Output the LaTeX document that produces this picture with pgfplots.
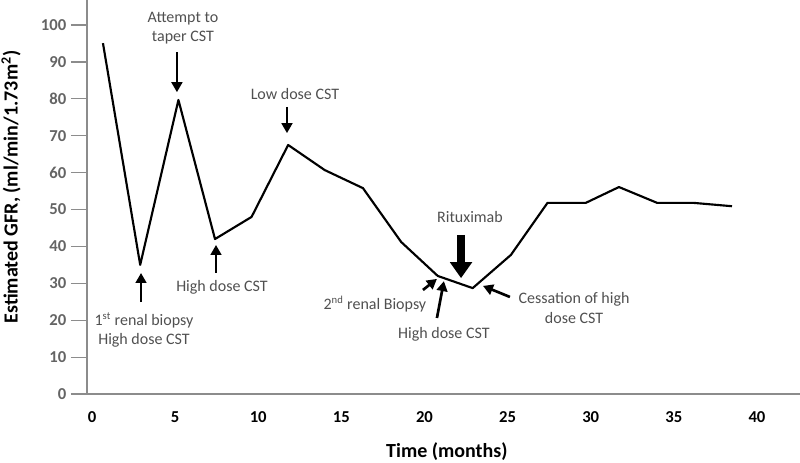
\documentclass[border=0pt]{standalone}
\usepackage{pgfplots}
\pgfplotsset{compat=1.18}
\usepackage{fontspec}
\setmainfont{Carlito}
\usetikzlibrary{arrows.meta}
\definecolor{axgray}{RGB}{140,140,140}
\definecolor{lblgray}{RGB}{100,100,100}
\definecolor{txtgray}{RGB}{80,80,80}
\begin{document}
\begin{tikzpicture}
\begin{axis}[
  scale only axis,
  width=534.75pt, height=295.5pt,
  xmin=-0.3, xmax=42.59, ymin=0, ymax=106.8,
  axis x line*=bottom, axis y line*=left,
  axis line style={draw=axgray, line width=0.9pt, -},
  xtick={0,5,...,40}, ytick={0,10,...,100},
  x tick style={draw=none},
  y tick style={draw=axgray, line width=0.9pt},
  tick align=outside,
  major tick length=12pt,
  /pgf/number format/assume math mode=true,
  xticklabel style={font=\fontsize{12.5}{14}\selectfont\bfseries, text=black, yshift=2.5pt},
  yticklabel style={font=\fontsize{12.5}{14}\selectfont\bfseries, text=lblgray},
  clip=false,
]
\addplot[black, line width=1.6pt, line join=round] coordinates {
 (0.66,95.1) (2.9,35.0) (5.2,79.7) (7.4,42.0) (9.6,48.0) (11.8,67.5)
 (14.0,60.7) (16.3,55.8) (18.6,41.2) (20.8,32.0) (22.9,28.7) (25.2,37.7)
 (27.4,51.8) (29.7,51.8) (31.7,56.1) (34.0,51.8) (36.2,51.8) (38.5,50.9)
};
% annotations
\begin{scope}[font=\fontsize{12}{14.6}\selectfont, text=txtgray]
\node[align=center] at (axis cs:5.47,99.2) {Attempt to\\taper CST};
\node at (axis cs:12.21,81.3) {Low dose CST};
\node[align=center] at (axis cs:3.13,17.3) {1\textsuperscript{st} renal biopsy\\High dose CST};
\node at (axis cs:7.82,29.0) {High dose CST};
\node at (axis cs:17.02,24.4) {2\textsuperscript{nd} renal Biopsy};
\node at (axis cs:21.17,16.3) {High dose CST};
\node at (axis cs:22.74,48.0) {Rituximab};
\node[align=center] at (axis cs:29.0,23.3) {Cessation of high\\dose CST};
\end{scope}
\begin{scope}[line width=2pt, -{Triangle[length=7.5pt,width=8pt]}]
\draw (axis cs:5.11,92.7) -- (axis cs:5.11,81.8);
\draw (axis cs:11.73,77.8) -- (axis cs:11.73,70.7);
\draw (axis cs:2.95,24.9) -- (axis cs:2.95,32.8);
\draw (axis cs:7.46,32.8) -- (axis cs:7.46,40.4);
\draw (axis cs:19.91,28.2) -- (axis cs:20.75,31.2);
\draw (axis cs:20.75,20.6) -- (axis cs:21.17,30.6);
\draw (axis cs:25.14,26.3) -- (axis cs:23.52,29.3);
\end{scope}
\draw[line width=6.5pt, -{Triangle[length=12pt,width=16pt]}] (axis cs:22.2,43.1) -- (axis cs:22.2,31.4);
% axis labels
\node[font=\fontsize{15}{18}\selectfont\bfseries] at (axis cs:21.35,-15.7) {Time (months)};
\node[font=\fontsize{15}{18}\selectfont\bfseries, rotate=90] at (axis cs:-4.87,56.1) {Estimated GFR, (ml/min/1.73m\textsuperscript{2})};
\end{axis}
\pgfresetboundingbox
\path[use as bounding box] ([xshift=-65.25pt,yshift=-51.75pt]current axis.south west) rectangle (current axis.north east);
\end{tikzpicture}
\end{document}
